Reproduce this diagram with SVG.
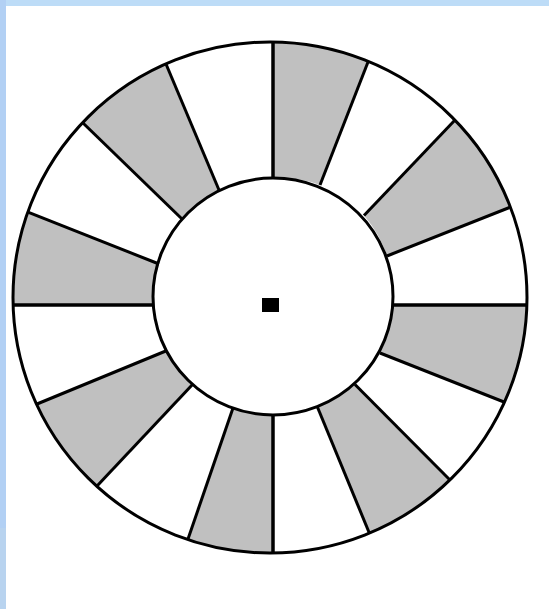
<svg xmlns="http://www.w3.org/2000/svg" width="549" height="609" viewBox="0 0 549 609">
<style>
.sec{fill:#c0c0c0;stroke:none}
.ring{fill:none;stroke:#000;stroke-width:3}
.spoke{stroke:#000;stroke-width:3;stroke-linecap:butt}
.axis{stroke:#000;stroke-width:3.5}
</style>
<rect x="0" y="0" width="549" height="609" fill="#ffffff"/>
<rect x="0" y="0" width="549" height="6" fill="#bddcf7"/>
<rect x="0" y="0" width="6" height="528" fill="#b2d0f4"/>
<rect x="0" y="528" width="6" height="81" fill="#b8d3ef"/>
<g id="wheel">
<g id="sectors">
<path class="sec" d="M273,42 A257,255.5 0 0 1 368.4,61 L320,185 A120,118.5 0 0 0 273,178 Z"/>
<path class="sec" d="M455,120 A257,255.5 0 0 1 509.5,207.5 L387,256 A120,118.5 0 0 0 364,215.5 Z"/>
<path class="sec" d="M527,305 A257,255.5 0 0 1 504,402 L380,353 A120,118.5 0 0 0 393,305 Z"/>
<path class="sec" d="M450,480 A257,255.5 0 0 1 369.5,533.5 L317,406 A120,118.5 0 0 0 355,384.5 Z"/>
<path class="sec" d="M273,553 A257,255.5 0 0 1 188,539 L233,408 A120,118.5 0 0 0 273,415 Z"/>
<path class="sec" d="M97,486 A257,255.5 0 0 1 37,404 L167,350.5 A120,118.5 0 0 0 193,384 Z"/>
<path class="sec" d="M13,305 A257,255.5 0 0 1 28.6,212.3 L159,264 A120,118.5 0 0 0 153,305 Z"/>
<path class="sec" d="M83,123 A257,255.5 0 0 1 166,64 L219,190 A120,118.5 0 0 0 182,219 Z"/>
</g>
<g id="spokes">
<line class="axis" x1="273" y1="42" x2="273" y2="178"/>
<line class="spoke" x1="368.4" y1="61" x2="320" y2="185"/>
<line class="spoke" x1="455" y1="120" x2="364" y2="215.5"/>
<line class="spoke" x1="509.5" y1="207.5" x2="387" y2="256"/>
<line class="axis" x1="527" y1="305" x2="393" y2="305"/>
<line class="spoke" x1="504" y1="402" x2="380" y2="353"/>
<line class="spoke" x1="450" y1="480" x2="355" y2="384.5"/>
<line class="spoke" x1="369.5" y1="533.5" x2="317" y2="406"/>
<line class="axis" x1="273" y1="553" x2="273" y2="415"/>
<line class="spoke" x1="188" y1="539" x2="233" y2="408"/>
<line class="spoke" x1="97" y1="486" x2="193" y2="384"/>
<line class="spoke" x1="37" y1="404" x2="167" y2="350.5"/>
<line class="axis" x1="13" y1="305" x2="153" y2="305"/>
<line class="spoke" x1="28.6" y1="212.3" x2="159" y2="264"/>
<line class="spoke" x1="83" y1="123" x2="182" y2="219"/>
<line class="spoke" x1="166" y1="64" x2="219" y2="190"/>
</g>
<ellipse id="outer" class="ring" cx="270" cy="297.5" rx="257" ry="255.5"/>
<ellipse id="inner" class="ring" cx="273" cy="296.5" rx="120" ry="118.5"/>
<rect id="hub" x="262" y="298" width="17" height="14" fill="#000"/>
</g>
</svg>
